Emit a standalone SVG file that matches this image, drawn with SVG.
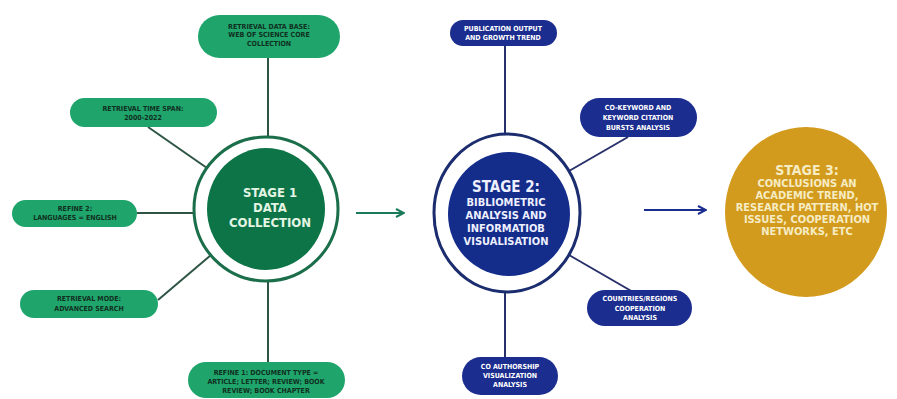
<svg xmlns="http://www.w3.org/2000/svg" width="897" height="399" viewBox="0 0 897 399">
<defs>
<style>
.gp{fill:#1fa56c;}
.bp{fill:#1b2d8e;}
.gt{font-family:"DejaVu Sans Condensed","Liberation Sans",sans-serif;font-weight:bold;font-size:7px;fill:#10301f;text-anchor:middle;}
.bt{font-family:"DejaVu Sans Condensed","Liberation Sans",sans-serif;font-weight:bold;font-size:7px;fill:#ffffff;text-anchor:middle;}
.gl{stroke:#2e5444;stroke-width:2;fill:none;}
.bl{stroke:#27306a;stroke-width:2;fill:none;}
.big{font-family:"DejaVu Sans Condensed","Liberation Sans",sans-serif;font-weight:bold;text-anchor:middle;}
</style>
<marker id="ag" viewBox="0 0 10 10" refX="9" refY="5" markerWidth="5" markerHeight="5" orient="auto"><path d="M1,1 L9,5 L1,9" fill="none" stroke="#1b7a5a" stroke-width="2"/></marker>
<marker id="ab" viewBox="0 0 10 10" refX="9" refY="5" markerWidth="5" markerHeight="5" orient="auto"><path d="M1,1 L9,5 L1,9" fill="none" stroke="#1b2d8e" stroke-width="2"/></marker>
</defs>
<rect width="897" height="399" fill="#ffffff"/>
<g id="connectors">
<line class="gl" x1="268" y1="58" x2="268" y2="137"/>
<line class="gl" x1="148" y1="127" x2="207" y2="168"/>
<line class="gl" x1="137" y1="213" x2="194" y2="213"/>
<line class="gl" x1="158" y1="300" x2="211" y2="255"/>
<line class="gl" x1="268" y1="281" x2="268" y2="362"/>
<line class="bl" x1="505" y1="45" x2="505" y2="134"/>
<line class="bl" x1="628" y1="137" x2="569" y2="171"/>
<line class="bl" x1="633" y1="292" x2="569" y2="255"/>
<line class="bl" x1="505" y1="292" x2="505" y2="357"/>
<line x1="356" y1="213" x2="404" y2="213" stroke="#1b7a5a" stroke-width="2" marker-end="url(#ag)"/>
<line x1="644" y1="210" x2="706" y2="210" stroke="#1b2d8e" stroke-width="2" marker-end="url(#ab)"/>
</g>
<g id="stage1">
<ellipse cx="266" cy="209" rx="72" ry="72" fill="#ffffff" stroke="#1b6e4a" stroke-width="3"/>
<ellipse cx="266" cy="209" rx="59" ry="61" fill="#0c7447"/>
<text class="big" x="270" y="197" font-size="13" fill="#e4f5e4">STAGE 1</text>
<text class="big" x="270" y="212" font-size="13" fill="#e4f5e4">DATA</text>
<text class="big" x="270" y="227" font-size="13" fill="#e4f5e4">COLLECTION</text>
</g>
<g id="stage2">
<ellipse cx="507" cy="213" rx="73" ry="79" fill="#ffffff" stroke="#1b2d6e" stroke-width="3"/>
<ellipse cx="509" cy="214" rx="61" ry="62" fill="#152d8a"/>
<text class="big" x="506" y="192" font-size="15" fill="#eef0ff">STAGE 2:</text>
<text class="big" x="506" y="206" font-size="11" fill="#eef0ff">BIBLIOMETRIC</text>
<text class="big" x="506" y="219" font-size="11" fill="#eef0ff">ANALYSIS AND</text>
<text class="big" x="506" y="232" font-size="11" fill="#eef0ff">INFORMATIOB</text>
<text class="big" x="506" y="245" font-size="11" fill="#eef0ff">VISUALISATION</text>
</g>
<g id="stage3">
<ellipse cx="806" cy="212" rx="81" ry="85" fill="#d39b1d"/>
<text class="big" x="807" y="175" font-size="14" fill="#f6ecc4">STAGE 3:</text>
<text class="big" x="807" y="187" font-size="11" fill="#f6ecc4">CONCLUSIONS AN</text>
<text class="big" x="807" y="199" font-size="11" fill="#f6ecc4">ACADEMIC TREND,</text>
<text class="big" x="807" y="211" font-size="11" fill="#f6ecc4">RESEARCH PATTERN, HOT</text>
<text class="big" x="807" y="223" font-size="11" fill="#f6ecc4">ISSUES, COOPERATION</text>
<text class="big" x="807" y="235" font-size="11" fill="#f6ecc4">NETWORKS, ETC</text>
</g>
<g id="g-database">
<rect class="gp" x="198" y="15" width="142" height="43" rx="21.5"/>
<text class="gt" x="269" y="29">RETRIEVAL DATA BASE:</text>
<text class="gt" x="269" y="37">WEB OF SCIENCE CORE</text>
<text class="gt" x="269" y="46">COLLECTION</text>
</g>
<g id="g-timespan">
<rect class="gp" x="70" y="98" width="147" height="29" rx="14.5"/>
<text class="gt" x="143" y="111">RETRIEVAL TIME SPAN:</text>
<text class="gt" x="143" y="120">2000-2022</text>
</g>
<g id="g-refine2">
<rect class="gp" x="12" y="200" width="125" height="27" rx="13.5"/>
<text class="gt" x="75" y="211">REFINE 2:</text>
<text class="gt" x="75" y="220">LANGUAGES = ENGLISH</text>
</g>
<g id="g-mode">
<rect class="gp" x="20" y="290" width="138" height="28" rx="14"/>
<text class="gt" x="89" y="301">RETRIEVAL MODE:</text>
<text class="gt" x="89" y="311">ADVANCED SEARCH</text>
</g>
<g id="g-refine1">
<rect class="gp" x="188" y="362" width="157" height="36" rx="18"/>
<text class="gt" x="266" y="375">REFINE 1: DOCUMENT TYPE =</text>
<text class="gt" x="266" y="384">ARTICLE; LETTER; REVIEW; BOOK</text>
<text class="gt" x="266" y="393">REVIEW; BOOK CHAPTER</text>
</g>
<g id="b-output">
<rect class="bp" x="450" y="20" width="107" height="26" rx="13"/>
<text class="bt" x="503" y="31">PUBLICATION OUTPUT</text>
<text class="bt" x="503" y="40">AND GROWTH TREND</text>
</g>
<g id="b-keyword">
<rect class="bp" x="580" y="98" width="117" height="39" rx="19.5"/>
<text class="bt" x="638" y="110">CO-KEYWORD AND</text>
<text class="bt" x="638" y="120">KEYWORD CITATION</text>
<text class="bt" x="638" y="130">BURSTS ANALYSIS</text>
</g>
<g id="b-countries">
<rect class="bp" x="587" y="290" width="105" height="36" rx="18"/>
<text class="bt" x="640" y="301">COUNTRIES/REGIONS</text>
<text class="bt" x="640" y="311">COOPERATION</text>
<text class="bt" x="640" y="320">ANALYSIS</text>
</g>
<g id="b-authorship">
<rect class="bp" x="462" y="357" width="96" height="38" rx="19"/>
<text class="bt" x="510" y="369">CO AUTHORSHIP</text>
<text class="bt" x="510" y="378">VISUALIZATION</text>
<text class="bt" x="510" y="387">ANALYSIS</text>
</g>
</svg>
